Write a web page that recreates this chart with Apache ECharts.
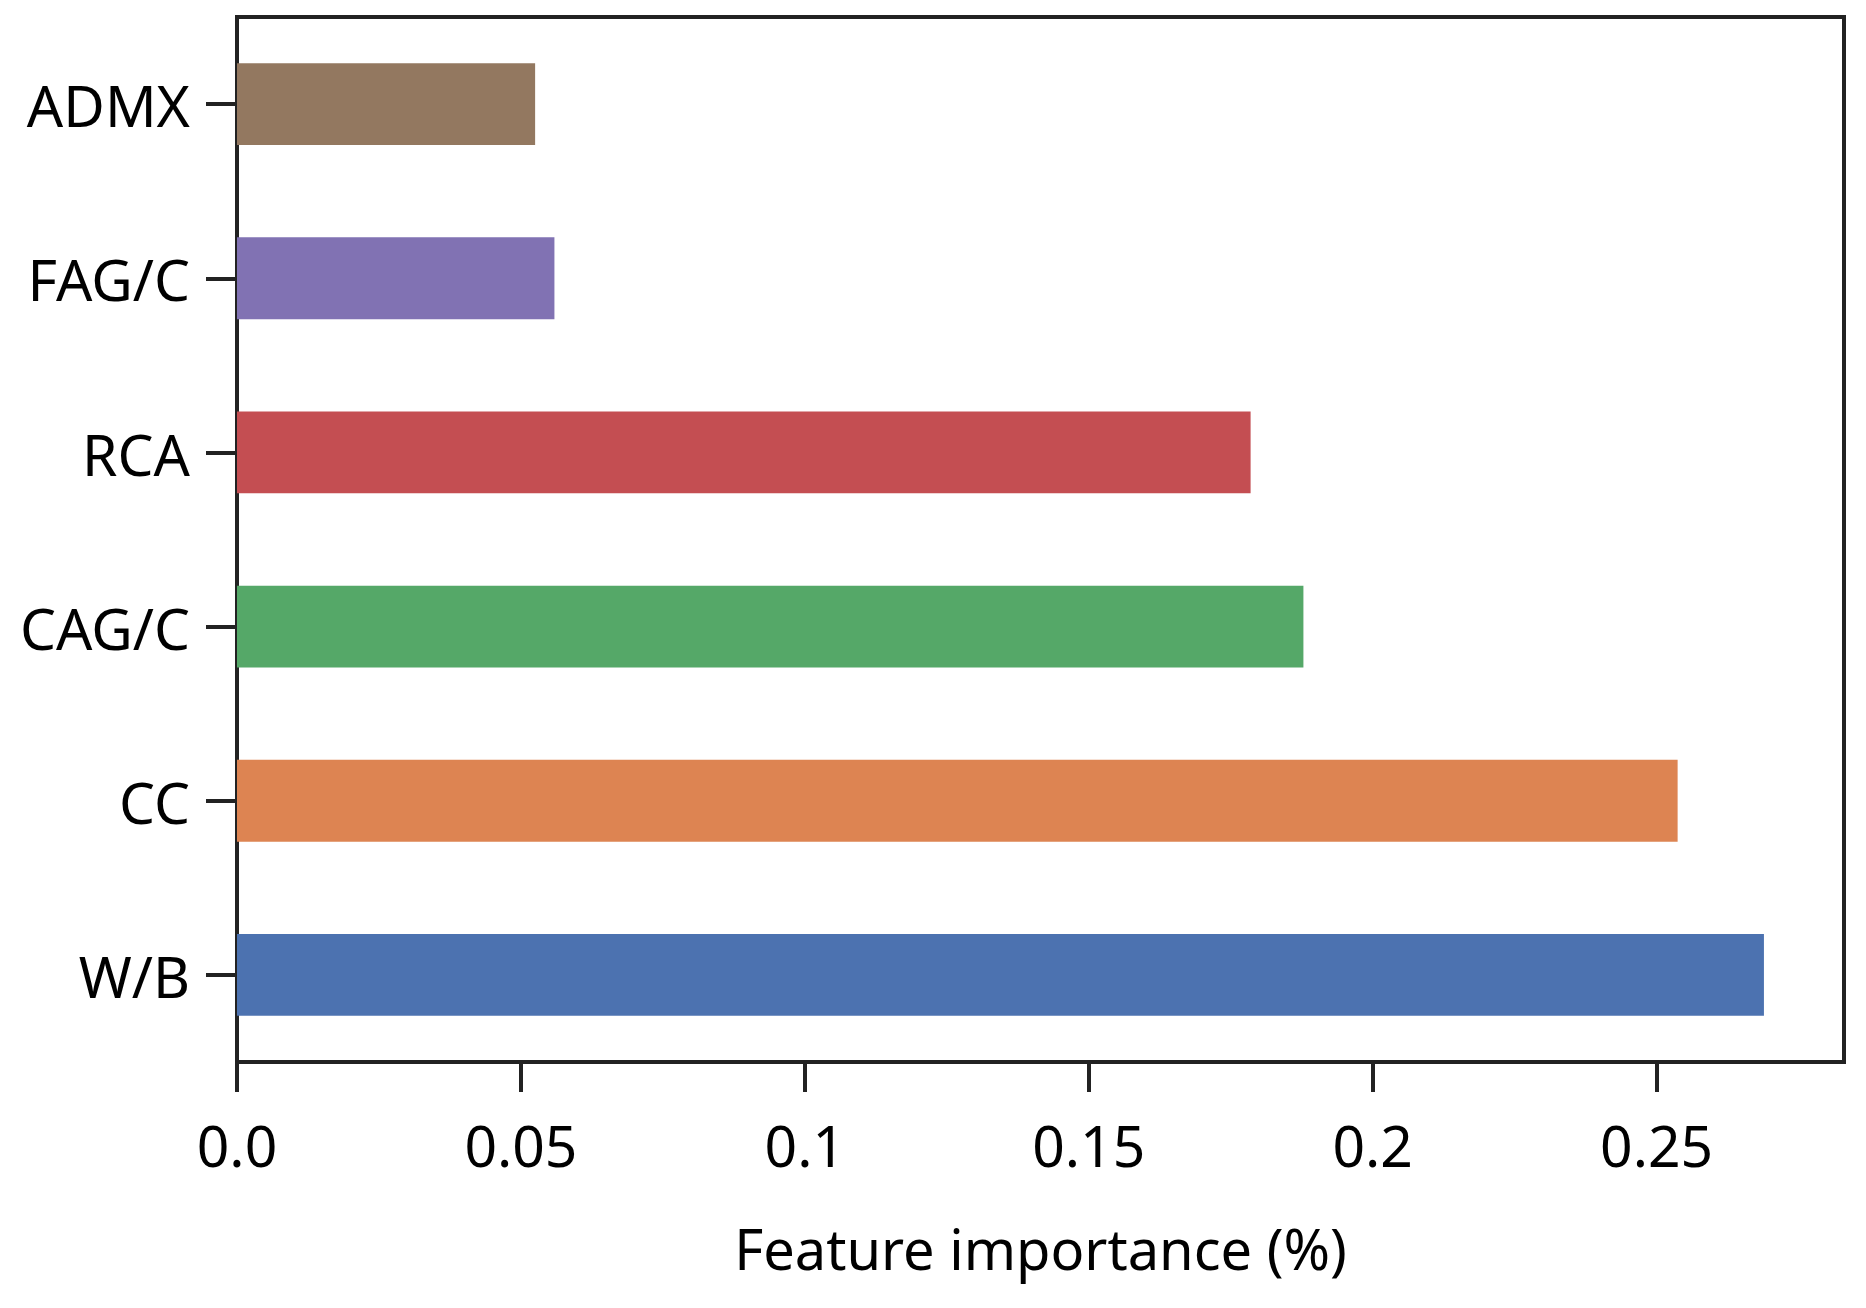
<!DOCTYPE html>
<html>
<head>
<meta charset="utf-8">
<script src="https://cdn.jsdelivr.net/npm/echarts@6/dist/echarts.min.js"></script>
<style>
html,body{margin:0;padding:0;background:#fff;}
#chart{width:1866px;height:1308px;}
</style>
</head>
<body>
<div id="chart"></div>
<script>
// Categories listed bottom to top
const categories = ['W/B', 'CC', 'CAG/C', 'RCA', 'FAG/C', 'ADMX'];
const importance = [0.2689, 0.2537, 0.1878, 0.1785, 0.0559, 0.0525];
const xTickValues = [0, 0.05, 0.1, 0.15, 0.2, 0.25];
const xTickLabels = ['0.0', '0.05', '0.1', '0.15', '0.2', '0.25'];
const barColors = ['#4C72B0', '#DD8452', '#55A868', '#C44E52', '#8172B3', '#937860'];
const xName = 'Feature importance (%)';

const chart = echarts.init(document.getElementById('chart'), null, {renderer: 'canvas'});
const font = '"Noto Sans", sans-serif';
const axisColor = '#222';

chart.setOption({
  backgroundColor: '#ffffff',
  animation: false,
  grid: {
    left: 237, right: 22, top: 17, bottom: 246,
    show: true, borderColor: axisColor, borderWidth: 4, backgroundColor: 'transparent'
  },
  xAxis: {
    type: 'value',
    min: 0, max: 0.283,
    splitLine: {show: false},
    axisLine: {show: true, lineStyle: {color: axisColor, width: 4}},
    axisTick: {show: true, length: 30, lineStyle: {color: axisColor, width: 4}, customValues: xTickValues},
    axisLabel: {
      show: true, customValues: xTickValues, margin: 60,
      fontFamily: font, fontSize: 57, color: '#000',
      formatter: function (v) {
        const i = xTickValues.findIndex(t => Math.abs(t - v) < 1e-9);
        return i >= 0 ? xTickLabels[i] : '';
      }
    },
    name: xName, nameLocation: 'middle', nameGap: 164,
    nameTextStyle: {fontFamily: font, fontSize: 56, color: '#000'}
  },
  yAxis: {
    type: 'category',
    data: categories,
    axisLine: {show: true, lineStyle: {color: axisColor, width: 4}},
    axisTick: {show: true, alignWithLabel: true, length: 31, lineStyle: {color: axisColor, width: 4}},
    axisLabel: {
      margin: 47, fontFamily: font, fontSize: 57, color: '#000',
      formatter: function (v) { return '{a|' + v + '}'; },
      rich: {a: {fontFamily: font, fontSize: 57, color: '#000', padding: [14, 0, 0, 0]}}
    },
    splitLine: {show: false}
  },
  series: [{
    type: 'bar',
    barWidth: '47%',
    data: importance.map((v, i) => ({value: v, itemStyle: {color: barColors[i]}}))
  }]
});
</script>
</body>
</html>
